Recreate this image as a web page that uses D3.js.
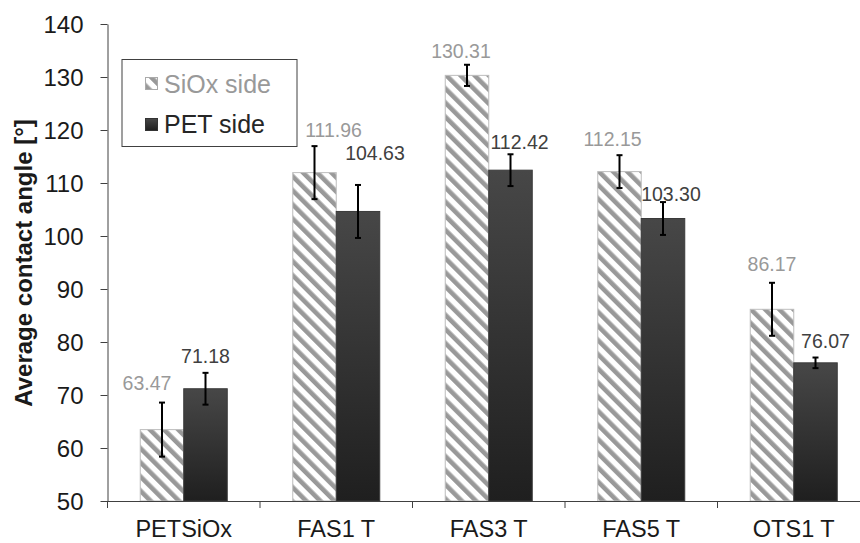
<!DOCTYPE html>
<html><head><meta charset="utf-8">
<script src="https://cdn.jsdelivr.net/npm/d3@7"></script>
<style>body{margin:0;background:#fff}svg{display:block;font-family:"Liberation Sans",Arial,sans-serif}</style>
</head><body><svg id="c" width="860" height="543"></svg>
<script>
const categories = ["PETSiOx", "FAS1 T", "FAS3 T", "FAS5 T", "OTS1 T"];
const seriesNames = ["SiOx side", "PET side"];
const siox = [63.47, 111.96, 130.31, 112.15, 86.17];
const pet = [71.18, 104.63, 112.42, 103.30, 76.07];
const sioxErr = [5.1, 5.0, 2.0, 3.1, 5.0];
const petErr = [3.0, 5.0, 3.0, 3.1, 1.0];
const yTicks = [50, 60, 70, 80, 90, 100, 110, 120, 130, 140];

// layout-only label nudges (px) relative to default placement above the error bar
const sioxNudge = [[-15,-5],[19,-1],[-6,1],[-7,-1],[0,-4]];
const petNudge = [[0,-2],[17,-17],[9,3],[8,7],[10,-2]];

const FONT = "Liberation Sans, Arial, sans-serif";
const svg = d3.select("#c");
const defs = svg.append("defs");
const pat = defs.append("pattern").attr("id","hatch").attr("patternUnits","userSpaceOnUse")
  .attr("width",10).attr("height",10).attr("patternTransform","rotate(-45)");
pat.append("rect").attr("width",10).attr("height",10).attr("fill","#fff");
pat.append("rect").attr("width",4.6).attr("height",10).attr("fill","#999");
const grad = defs.append("linearGradient").attr("id","dark").attr("x1",0).attr("y1",0).attr("x2",0).attr("y2",1);
grad.append("stop").attr("offset",0).attr("stop-color","#474747");
grad.append("stop").attr("offset",1).attr("stop-color","#1f1f1f");

const x = d3.scaleBand().domain(categories).range([107.5, 870]).padding(0);
const y = d3.scaleLinear().domain([50, 140]).range([501, 24]);
const barW = 43.5;

// y axis
const yAxis = d3.axisLeft(y).tickValues(yTicks).tickSize(7).tickSizeOuter(0);
const gy = svg.append("g").attr("transform","translate(107.5,0)").call(yAxis);
gy.select(".domain").attr("stroke","#404040");
gy.selectAll(".tick line").attr("stroke","#404040");
gy.selectAll(".tick text").attr("font-size",24).attr("fill","#1a1a1a").attr("x",-24).attr("dy","0.36em")
  .attr("font-family",FONT);

const g = svg.append("g");
categories.forEach((c,i)=>{
  const cx = x(c) + x.bandwidth()/2;
  g.append("rect").attr("x", cx - barW).attr("y", y(siox[i])).attr("width", barW)
    .attr("height", y(50) - y(siox[i])).attr("fill","url(#hatch)").attr("stroke","#bdbdbd").attr("stroke-width",1);
  g.append("rect").attr("x", cx).attr("y", y(pet[i])).attr("width", barW)
    .attr("height", y(50) - y(pet[i])).attr("fill","url(#dark)").attr("stroke","#3a3a3a").attr("stroke-width",1);
});

// x axis
const xAxis = d3.axisBottom(x).tickSize(0).tickSizeOuter(0);
const gx = svg.append("g").attr("transform","translate(0,501)").call(xAxis);
gx.select(".domain").attr("stroke","#404040").attr("d","M107.5,0.5H860");
gx.selectAll(".tick text").attr("font-size",23.5).attr("fill","#1a1a1a").attr("y",36).attr("dy",0)
  .attr("font-family",FONT);
const bounds = categories.map(c => x(c)).concat([x(categories[categories.length-1]) + x.bandwidth()]);
bounds.forEach(xx=>{
  if (xx <= 860) svg.append("line").attr("x1",xx).attr("x2",xx).attr("y1",501).attr("y2",508).attr("stroke","#404040");
});

// error bars + labels
function errBar(cx, v, e){
  const t = y(v+e), b = y(v-e);
  g.append("line").attr("x1",cx).attr("x2",cx).attr("y1",t).attr("y2",b).attr("stroke","#000").attr("stroke-width",2);
  g.append("line").attr("x1",cx-3).attr("x2",cx+3).attr("y1",t).attr("y2",t).attr("stroke","#000").attr("stroke-width",2);
  g.append("line").attr("x1",cx-3).attr("x2",cx+3).attr("y1",b).attr("y2",b).attr("stroke","#000").attr("stroke-width",2);
}
categories.forEach((c,i)=>{
  const cx = x(c) + x.bandwidth()/2;
  errBar(cx - barW/2, siox[i], sioxErr[i]);
  errBar(cx + barW/2, pet[i], petErr[i]);
  g.append("text").attr("x", cx - barW/2 + sioxNudge[i][0]).attr("y", y(siox[i]+sioxErr[i]) - 8 + sioxNudge[i][1])
    .attr("text-anchor","middle").attr("font-size",19.5).attr("fill","#999").text(siox[i].toFixed(2));
  g.append("text").attr("x", cx + barW/2 + petNudge[i][0]).attr("y", y(pet[i]+petErr[i]) - 8 + petNudge[i][1])
    .attr("text-anchor","middle").attr("font-size",19.5).attr("fill","#404040").text(pet[i].toFixed(2));
});

// y title
svg.append("text").attr("transform","translate(32,263) rotate(-90)").attr("text-anchor","middle")
  .attr("font-size",24).attr("font-weight","bold").attr("fill","#1a1a1a").text("Average contact angle [°]");

// legend
const lg = svg.append("g");
lg.append("rect").attr("x",122).attr("y",59.5).attr("width",175).attr("height",87).attr("fill","#fff").attr("stroke","#404040").attr("stroke-width",1);
lg.append("rect").attr("x",145.5).attr("y",77.5).attr("width",12).attr("height",12).attr("fill","url(#hatch)").attr("stroke","#aaa");
lg.append("rect").attr("x",145.5).attr("y",118.5).attr("width",12).attr("height",12).attr("fill","url(#dark)").attr("stroke","#333");
lg.append("text").attr("x",164).attr("y",93).attr("font-size",25).attr("fill","#999").text(seriesNames[0]);
lg.append("text").attr("x",164).attr("y",133).attr("font-size",25).attr("fill","#262626").text(seriesNames[1]);
</script></body></html>
